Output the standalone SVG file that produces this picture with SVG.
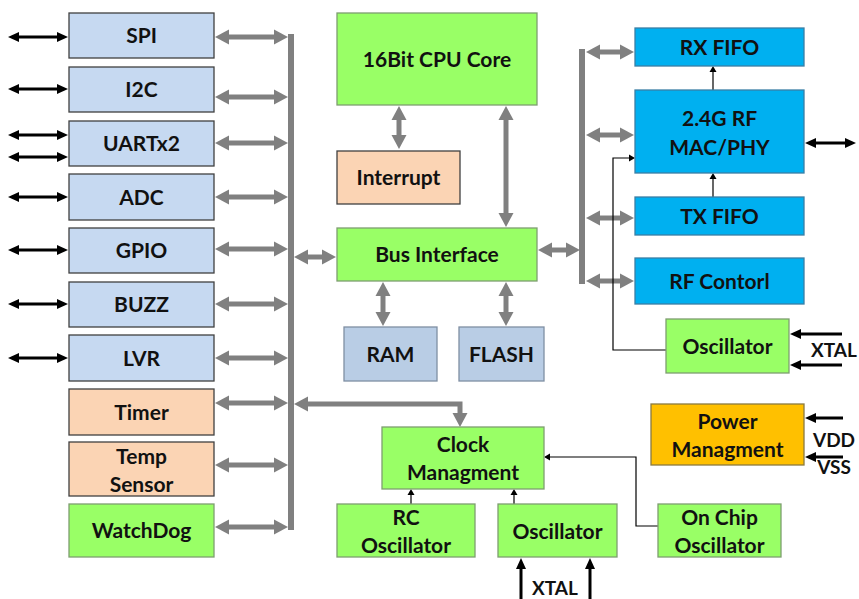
<svg xmlns="http://www.w3.org/2000/svg" width="859" height="599" viewBox="0 0 859 599">
<defs>
<style>
.lb{fill:#C6D9F1;stroke:#404040;stroke-width:1.3}
.pe{fill:#FBD4B4;stroke:#404040;stroke-width:1.3}
.gr{fill:#99FF66;stroke:#7E9E70;stroke-width:1.3}
.bl{fill:#00B0F0;stroke:#3A7FA5;stroke-width:1.3}
.rm{fill:#B9CDE5;stroke:#7F8FA3;stroke-width:1.3}
.pw{fill:#FFC000;stroke:#8A7A40;stroke-width:1.3}
text{font-family:Lato,"Open Sans","Liberation Sans",sans-serif;font-weight:bold;font-size:21px;text-anchor:middle;fill:#111}
.ga{stroke:#808080;stroke-width:5;fill:none;marker-start:url(#gh);marker-end:url(#gh)}
.ga1{stroke:#808080;stroke-width:5;fill:none;marker-start:url(#gh);marker-end:url(#gh);stroke-linejoin:miter}
.ba{stroke:#000;stroke-width:3;fill:none;marker-start:url(#bh);marker-end:url(#bh)}
.ba1{stroke:#000;stroke-width:3;fill:none;marker-end:url(#bh)}
.ta{stroke:#000;stroke-width:1.2;fill:none;marker-end:url(#th)}
.bus{fill:#808080}
</style>
<marker id="gh" markerUnits="userSpaceOnUse" markerWidth="16" markerHeight="16" refX="0" refY="7.5" orient="auto-start-reverse" overflow="visible"><path d="M0,0 L14,7.5 L0,15 z" fill="#808080"/></marker>
<marker id="bh" markerUnits="userSpaceOnUse" markerWidth="12" markerHeight="12" refX="0" refY="5" orient="auto-start-reverse" overflow="visible"><path d="M0,0 L11,5 L0,10 z" fill="#000"/></marker>
<marker id="th" markerUnits="userSpaceOnUse" markerWidth="8" markerHeight="8" refX="0" refY="3.5" orient="auto" overflow="visible"><path d="M0,0 L6,3.5 L0,7 z" fill="#000"/></marker>
</defs>
<rect width="859" height="599" fill="#fff"/>

<g id="connectors">
<rect class="bus" x="288" y="34" width="6" height="496"/>
<rect class="bus" x="579" y="49" width="6" height="235"/>
<path class="ga" d="M229,37 H274"/>
<path class="ga" d="M229,97 H274"/>
<path class="ga" d="M229,143 H274"/>
<path class="ga" d="M229,197 H274"/>
<path class="ga" d="M229,249 H274"/>
<path class="ga" d="M229,304 H274"/>
<path class="ga" d="M229,358 H274"/>
<path class="ga" d="M229,403 H274"/>
<path class="ga" d="M229,465 H274"/>
<path class="ga" d="M229,527 H274"/>
<path class="ga" d="M308,257 H322"/>
<path class="ga1" d="M308,404 H460 V413"/>
<path class="ga" d="M399,120 V135"/>
<path class="ga" d="M506,120 V213"/>
<path class="ga" d="M383,296 V312"/>
<path class="ga" d="M506,296 V312"/>
<path class="ga" d="M552,250 H566"/>
<path class="ga" d="M600,52 H620"/>
<path class="ga" d="M600,135 H620"/>
<path class="ga" d="M600,218 H620"/>
<path class="ga" d="M600,281 H620"/>
<path class="ba" d="M19,37 H57"/>
<path class="ba" d="M19,89 H57"/>
<path class="ba" d="M19,135 H57"/>
<path class="ba" d="M19,157 H57"/>
<path class="ba" d="M19,197 H57"/>
<path class="ba" d="M19,250 H57"/>
<path class="ba" d="M19,304 H57"/>
<path class="ba" d="M19,358 H57"/>
<path class="ba" d="M816,143 H845"/>
<path class="ba1" d="M842,334 H801"/>
<path class="ba1" d="M842,365 H801"/>
<path class="ba1" d="M843,418 H816"/>
<path class="ba1" d="M843,457 H816"/>
<path class="ba1" d="M521,599 V569"/>
<path class="ba1" d="M590,599 V569"/>
<path class="ta" d="M713,90 V72"/>
<path class="ta" d="M713,197 V179"/>
<path class="ta" d="M666,350 H613 V158 H629"/>
<path class="ta" d="M411,504 V495"/>
<path class="ta" d="M514,504 V495"/>
<path class="ta" d="M658,526 H636 V457 H550"/>
</g>

<g id="spi"><rect class="lb" x="69" y="13" width="145" height="45"/><text x="141.5" y="43">SPI</text></g>
<g id="i2c"><rect class="lb" x="69" y="67" width="145" height="45"/><text x="141.5" y="97">I2C</text></g>
<g id="uart"><rect class="lb" x="69" y="121" width="145" height="45"/><text x="141.5" y="151">UARTx2</text></g>
<g id="adc"><rect class="lb" x="69" y="174" width="145" height="46"/><text x="141.5" y="205">ADC</text></g>
<g id="gpio"><rect class="lb" x="69" y="228" width="145" height="45"/><text x="141.5" y="258">GPIO</text></g>
<g id="buzz"><rect class="lb" x="69" y="282" width="145" height="45"/><text x="141.5" y="312">BUZZ</text></g>
<g id="lvr"><rect class="lb" x="69" y="335" width="145" height="46"/><text x="141.5" y="366">LVR</text></g>
<g id="timer"><rect class="pe" x="69" y="389" width="145" height="46"/><text x="141.5" y="420">Timer</text></g>
<g id="temp"><rect class="pe" x="69" y="442" width="145" height="54"/><text x="141.5" y="464">Temp</text><text x="141.5" y="492">Sensor</text></g>
<g id="watchdog"><rect class="gr" x="69" y="504" width="145" height="53"/><text x="141.5" y="538">WatchDog</text></g>

<g id="cpu"><rect class="gr" x="337" y="13" width="200" height="92"/><text x="437" y="67">16Bit CPU Core</text></g>
<g id="interrupt"><rect class="pe" x="337" y="151" width="123" height="53"/><text x="398.5" y="185">Interrupt</text></g>
<g id="businterface"><rect class="gr" x="337" y="228" width="200" height="53"/><text x="437" y="262">Bus Interface</text></g>
<g id="ram"><rect class="rm" x="344" y="327" width="93" height="54"/><text x="390.5" y="362">RAM</text></g>
<g id="flash"><rect class="rm" x="459" y="327" width="85" height="54"/><text x="501.5" y="362">FLASH</text></g>

<g id="rxfifo"><rect class="bl" x="635" y="28" width="169" height="38"/><text x="719.5" y="55">RX FIFO</text></g>
<g id="rfmac"><rect class="bl" x="635" y="90" width="169" height="83"/><text x="719.5" y="126">2.4G RF</text><text x="719.5" y="155">MAC/PHY</text></g>
<g id="txfifo"><rect class="bl" x="635" y="197" width="169" height="38"/><text x="719.5" y="224">TX FIFO</text></g>
<g id="rfcontrol"><rect class="bl" x="635" y="258" width="169" height="46"/><text x="719.5" y="289">RF Contorl</text></g>
<g id="rfosc"><rect class="gr" x="666" y="319" width="123" height="54"/><text x="727.5" y="354">Oscillator</text></g>
<g id="xtal1"><text x="834" y="357" style="font-size:19px">XTAL</text></g>

<g id="power"><rect class="pw" x="651" y="404" width="153" height="61"/><text x="727.5" y="429">Power</text><text x="727.5" y="457">Managment</text></g>
<g id="vdd"><text x="834" y="447" style="font-size:19px">VDD</text><text x="834" y="474" style="font-size:19px">VSS</text></g>

<g id="clock"><rect class="gr" x="382" y="427" width="162" height="62"/><text x="463" y="452">Clock</text><text x="463" y="480">Managment</text></g>
<g id="rcosc"><rect class="gr" x="337" y="504" width="138" height="53"/><text x="406" y="525">RC</text><text x="406" y="553">Oscillator</text></g>
<g id="osc"><rect class="gr" x="498" y="504" width="119" height="53"/><text x="557.5" y="539">Oscillator</text></g>
<g id="onchip"><rect class="gr" x="658" y="504" width="123" height="53"/><text x="719.5" y="525">On Chip</text><text x="719.5" y="553">Oscillator</text></g>
<g id="xtal2"><text x="555" y="595" style="font-size:19px">XTAL</text></g>
</svg>
